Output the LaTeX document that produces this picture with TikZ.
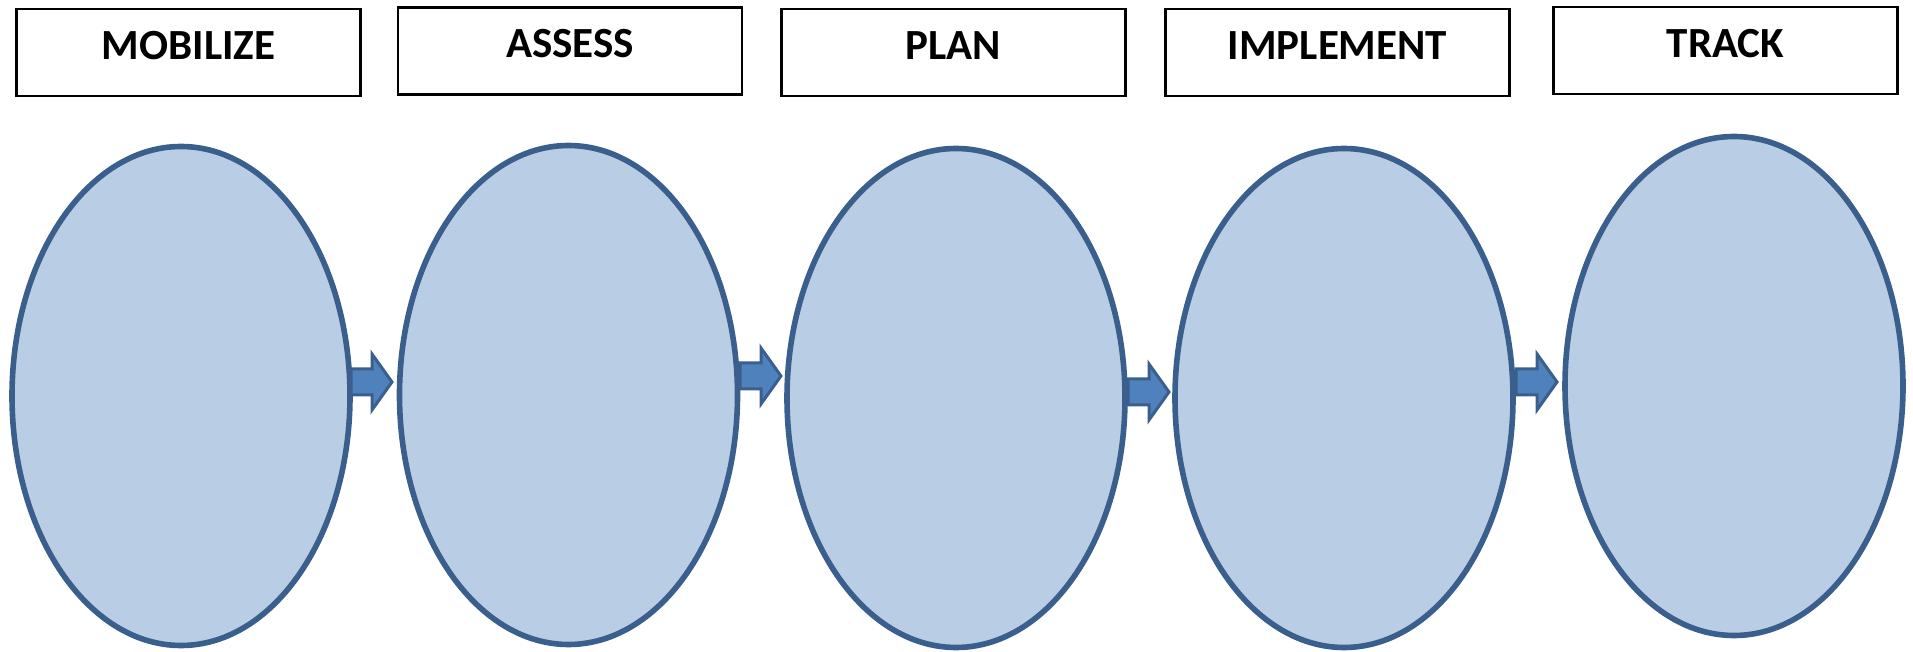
\documentclass[tikz,border=0pt]{standalone}
\usepackage{fontspec}
\setmainfont{Carlito}
\usetikzlibrary{shapes.geometric}
\definecolor{ellfill}{HTML}{B9CDE5}
\definecolor{elldraw}{HTML}{3A5F8D}
\definecolor{arrfill}{HTML}{4F81BD}
\begin{document}
\begin{tikzpicture}[x=0.5pt,y=-0.5pt,
  stagebox/.style={draw=black,line width=1.2pt,fill=white,minimum width=172pt,minimum height=43.5pt,inner sep=0pt,
    text height=14pt,text depth=7pt,font=\fontsize{21.5}{24}\selectfont\bfseries},
  phase/.style={ellipse,draw=elldraw,fill=ellfill,line width=2.8pt,minimum width=169pt,minimum height=249.5pt,inner sep=0pt},
  flow/.style={draw=elldraw,fill=arrfill,line width=1.5pt,line join=miter}]
\useasboundingbox (0,0) rectangle (1913,652);
% header boxes
\node[stagebox] (b1) at (188.5,52.5) {MOBILIZE};
\node[stagebox] (b2) at (570,51) {ASSESS};
\node[stagebox] (b3) at (953.5,52.5) {PLAN};
\node[stagebox] (b4) at (1337.5,52.5) {IMPLEMENT};
\node[stagebox] (b5) at (1725.5,50.5) {TRACK};
% ellipses
\node[phase] (e1) at (181,396) {};
\node[phase] (e2) at (568.5,395) {};
\node[phase] (e3) at (956,398) {};
\node[phase] (e4) at (1344,398) {};
\node[phase] (e5) at (1734,386) {};
% block arrows (shaft from one ellipse, tip touching the next)
\foreach \x/\y in {351/382, 740/376, 1128/392, 1516/382}{
  \draw[flow] (\x,\y-13) -- (\x+21,\y-13) -- (\x+21,\y-28) -- (\x+41,\y)
    -- (\x+21,\y+28) -- (\x+21,\y+13) -- (\x,\y+13) -- cycle;
}
\end{tikzpicture}
\end{document}
